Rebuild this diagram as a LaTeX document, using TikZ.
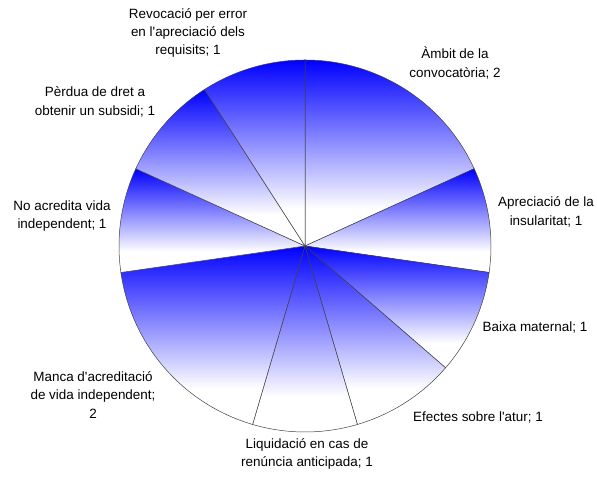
\documentclass[tikz,border=0pt]{standalone}
\usepackage{fontspec}
\setmainfont{Liberation Sans}
\newcommand{\apos}{\textquotesingle}
\pgfdeclareverticalshading{pieshade}{100bp}{color(0bp)=(white);
  color(35bp)=(white); color(55bp)=(blue!50); color(75bp)=(blue);
  color(100bp)=(blue)}
\begin{document}
\begin{tikzpicture}[x=1bp,y=1bp,
    slice/.style={shading=pieshade,draw=black!75,line width=.5pt},
    lbl/.style={align=center,inner sep=0pt,
      font=\fontsize{13.5}{18.5}\selectfont}]

    \useasboundingbox (0,0) rectangle (597,479);
    \coordinate (o) at (305,233);

    % the slices
    \foreach \a/\b in {90/24.545,24.545/-8.182,-8.182/-40.909,
      -40.909/-73.636,-73.636/-106.364,-106.364/-171.818,
      -171.818/-204.545,-204.545/-237.273,-237.273/-270}
    \shadedraw[slice] (o) -- ++(\a:186bp)
    arc[start angle=\a,end angle=\b,radius=186bp] -- cycle;

    % the texts
    \node[lbl] (rev) at (188,446) {Revocació per error\\en
      l\apos apreciació dels\\requisits; 1};
    \node[lbl] (amb) at (455,416) {Àmbit de la\\convocatòria; 2};
    \node[lbl] (apr) at (546,267) {Apreciació de la\\insularitat; 1};
    \node[lbl] (bai) at (535,152) {Baixa maternal; 1};
    \node[lbl] (efe) at (478,62) {Efectes sobre l\apos atur; 1};
    \node[lbl] (liq) at (307,25) {Liquidació en cas de\\renúncia
      anticipada; 1};
    \node[lbl] (man) at (93,84) {Manca d\apos acreditació\\de vida
      independent;\\2};
    \node[lbl] (noa) at (62,263) {No acredita vida\\independent; 1};
    \node[lbl] (per) at (95,377) {Pèrdua de dret a\\obtenir un
      subsidi; 1};
  \end{tikzpicture}
\end{document}
